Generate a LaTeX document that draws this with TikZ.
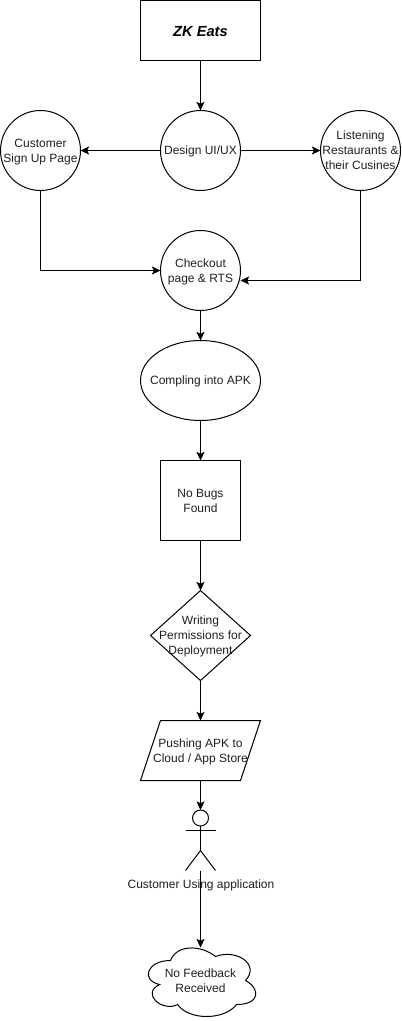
\documentclass[tikz,border=0pt]{standalone}
\usepackage{fontspec}
\setmainfont{Liberation Sans}
\usetikzlibrary{arrows.meta}
\newcommand{\lowered}[1]{\raisebox{-1.1pt}[\height][\depth]{\begin{tabular}{@{}c@{}}#1\end{tabular}}}
\tikzset{
  base/.style={inner sep=0pt,outer sep=0pt,font=\fontsize{9}{11.25}\selectfont,text=black!88},
  box/.style={base,draw,rectangle},
  free/.style={base,rectangle},
  conn/.style={-{Stealth[length=6.4pt,width=6pt,inset=1.3pt]},line width=.75pt,black},
}
\begin{document}
\begin{tikzpicture}[x=.75pt,y=-.75pt,line width=.75pt]
\useasboundingbox (0,0) rectangle (401,1021);
\node[box,minimum width=90pt,minimum height=45pt,font=\fontsize{11}{12}\selectfont\bfseries\itshape,text=black] (zk) at (200.5,30.5) {\raisebox{-1.1pt}[\height][\depth]{ZK Eats}};
\node[free,minimum size=60pt] (design) at (200.5,150.5) {\lowered{Design UI/UX}};
\draw (design.center) circle[radius=30pt];
\node[free,minimum size=60pt] (cust) at (40.5,150.5) {\lowered{Customer\\Sign Up Page}};
\draw (cust.center) circle[radius=30pt];
\node[free,minimum size=60pt] (list) at (360.5,150.5) {\lowered{Listening\\Restaurants \&\\their Cusines}};
\draw (list.center) circle[radius=30pt];
\node[free,minimum size=60pt] (chk) at (200.5,270.5) {\lowered{Checkout\\page \& RTS}};
\draw (chk.center) circle[radius=30pt];
\coordinate (chkr) at (240.5,280.5);
\node[free,minimum width=90pt,minimum height=60pt] (apk) at (200.5,380.5) {\lowered{Compling into APK}};
\draw (apk.center) ellipse[x radius=45pt,y radius=30pt];
\node[box,minimum size=60pt] (bugs) at (200.5,500.5) {\lowered{No Bugs\\Found}};
\node[free,minimum width=75pt,minimum height=67.5pt] (perm) at (200.5,635.5) {\lowered{Writing\\Permissions for\\Deployment}};
\draw (perm.north) -- (perm.east) -- (perm.south) -- (perm.west) -- cycle;
\node[free,minimum width=90pt,minimum height=45pt] (push) at (200.5,750.5) {\lowered{Pushing APK to\\Cloud / App Store}};
\draw ([xshift=15pt]push.north west) -- (push.north east) -- ([xshift=-15pt]push.south east) -- (push.south west) -- cycle;
% actor
\node[draw,circle,inner sep=0pt,outer sep=0pt,minimum size=12pt] (head) at (200.5,818) {};
\coordinate (hip) at (200.5,850.5);
\coordinate (foot) at (200.5,870.5);
\draw (head.south) -- (hip);
\draw (185.5,830.5) -- (215.5,830.5);
\draw (185.5,870.5) -- (hip) -- (215.5,870.5);
\node[free] (actor) at (201,884) {\lowered{Customer Using application}};
% cloud
\node[free] (fb) at (200.5,980.5) {\lowered{No Feedback\\Received}};
\coordinate (cloudtop) at (200.5,947.5);
\begin{scope}[shift={(140.5,940.5)},x=90pt,y=-60pt]
\draw (.25,.25) .. controls (.05,.25) and (0,.5) .. (.16,.55)
  .. controls (0,.66) and (.18,.9) .. (.31,.8)
  .. controls (.4,1) and (.7,1) .. (.8,.8)
  .. controls (1,.8) and (1,.6) .. (.875,.5)
  .. controls (1,.3) and (.8,.1) .. (.625,.2)
  .. controls (.5,.05) and (.3,.05) .. (.25,.25) -- cycle;
\end{scope}
% connectors
\draw[conn] (zk) -- (design);
\draw[conn] (design) -- (cust);
\draw[conn] (design) -- (list);
\draw[conn] (cust.south) |- (chk.west);
\draw[conn] (list.south) |- (chkr);
\draw[conn] (chk) -- (apk);
\draw[conn] (apk) -- (bugs);
\draw[conn] (bugs.south) -- (perm.north);
\draw[conn] (perm.south) -- (push.north);
\draw[conn] (push.south) -- (head.north);
\draw[conn] (foot) -- (cloudtop);
\end{tikzpicture}
\end{document}
